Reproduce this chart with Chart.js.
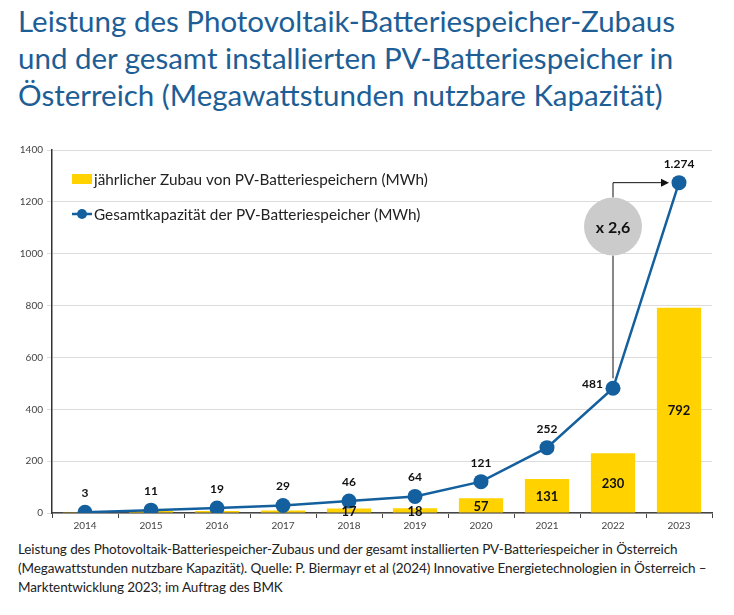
<!DOCTYPE html>
<html><head><meta charset="utf-8">
<script src="https://cdn.jsdelivr.net/npm/chart.js@4.4.1/dist/chart.umd.min.js"></script>
<style>
html,body{margin:0;padding:0;background:#fff;width:734px;height:615px;overflow:hidden;}
#title{position:absolute;left:18px;top:2px;width:716px;font-family:Lato,"Open Sans",sans-serif;font-size:29.5px;line-height:37px;color:#1d5e96;letter-spacing:0px;white-space:nowrap;}
#wrap{position:absolute;left:0;top:140px;width:734px;height:395px;}
#cap{position:absolute;left:18px;top:540px;width:716px;font-family:Lato,"Open Sans",sans-serif;font-size:13.5px;line-height:19px;color:#222;letter-spacing:-0.1px;white-space:nowrap;}
</style></head><body>
<div id="title">Leistung des Photovoltaik-Batteriespeicher-Zubaus<br>und der gesamt installierten PV-Batteriespeicher in<br>Österreich (Megawattstunden nutzbare Kapazität)</div>
<div id="wrap"><canvas id="c"></canvas></div>
<div id="cap">Leistung des Photovoltaik-Batteriespeicher-Zubaus und der gesamt installierten PV-Batteriespeicher in Österreich<br>(Megawattstunden nutzbare Kapazität). Quelle: P. Biermayr et al (2024) Innovative Energietechnologien in Österreich –<br>Marktentwicklung 2023; im Auftrag des BMK</div>
<script>
const years = ["2014","2015","2016","2017","2018","2019","2020","2021","2022","2023"];
const annualAdd = [3, 8, 8, 10, 17, 18, 57, 131, 230, 792];
const totalCap = [3, 11, 19, 29, 46, 64, 121, 252, 481, 1274];
const barLabels = ["", "", "", "", "17", "18", "57", "131", "230", "792"];
const lineLabels = ["3", "11", "19", "29", "46", "64", "121", "252", "481", "1.274"];
const yTicks = [0, 200, 400, 600, 800, 1000, 1200, 1400];
const growthText = "x 2,6";
const barName = "jährlicher Zubau von PV-Batteriespeichern (MWh)";
const lineName = "Gesamtkapazität der PV-Batteriespeicher (MWh)";

const YELLOW = "#ffd200", BLUE = "#14609e";
const FONT = "Lato, 'Open Sans', sans-serif";

const extras = {
  id: "extras",
  afterDatasetsDraw(chart) {
    const ctx = chart.ctx, x = chart.scales.x, y = chart.scales.y, ca = chart.chartArea;
    ctx.save();
    ctx.fillStyle = "#111"; ctx.textAlign = "center"; ctx.textBaseline = "middle";
    ctx.font = "bold 13px " + FONT;
    const bm = chart.getDatasetMeta(0);
    bm.data.forEach((b, i) => {
      if (!barLabels[i]) return;
      ctx.fillText(barLabels[i], b.x, (b.y + b.base) / 2 + 1);
    });
    ctx.font = "bold 12px " + FONT;
    const lm = chart.getDatasetMeta(1);
    lm.data.forEach((p, i) => {
      if (i === 8) { ctx.textAlign = "right"; ctx.fillText(lineLabels[i], p.x - 10, p.y - 4); }
      else { ctx.textAlign = "center"; ctx.fillText(lineLabels[i], p.x, p.y - 19); }
    });
    const p22 = lm.data[8], p23 = lm.data[9];
    const cx = p22.x, cy = y.getPixelForValue(1105), r = 29;
    ctx.strokeStyle = "#111"; ctx.lineWidth = 1;
    ctx.beginPath();
    ctx.moveTo(cx, p22.y - 10); ctx.lineTo(cx, cy + r);
    ctx.moveTo(cx, cy - r); ctx.lineTo(cx, p23.y); ctx.lineTo(p23.x - 16, p23.y);
    ctx.stroke();
    ctx.fillStyle = "#111";
    ctx.beginPath();
    ctx.moveTo(p23.x - 10, p23.y); ctx.lineTo(p23.x - 18, p23.y - 4); ctx.lineTo(p23.x - 18, p23.y + 4); ctx.closePath(); ctx.fill();
    ctx.fillStyle = "#cbcbcb";
    ctx.beginPath(); ctx.arc(cx, cy, r, 0, Math.PI * 2); ctx.fill();
    ctx.fillStyle = "#111"; ctx.textAlign = "center"; ctx.textBaseline = "middle";
    ctx.font = "bold 16px " + FONT;
    ctx.fillText(growthText, cx, cy + 1);
    const lx = ca.left + 20;
    const ly1 = ca.top + 29, ly2 = ca.top + 64;
    ctx.fillStyle = YELLOW; ctx.fillRect(lx, ly1 - 5, 20, 10);
    ctx.strokeStyle = BLUE; ctx.lineWidth = 2.5;
    ctx.beginPath(); ctx.moveTo(lx, ly2); ctx.lineTo(lx + 20, ly2); ctx.stroke();
    ctx.fillStyle = BLUE; ctx.beginPath(); ctx.arc(lx + 10, ly2, 5, 0, Math.PI * 2); ctx.fill();
    ctx.fillStyle = "#222"; ctx.textAlign = "left"; ctx.font = "15.3px " + FONT;
    ctx.fillText(barName, lx + 22, ly1 + 1);
    ctx.fillText(lineName, lx + 22, ly2 + 1);
    ctx.restore();
  }
};

new Chart(document.getElementById("c"), {
  data: {
    labels: years,
    datasets: [
      { type: "bar", label: barName, data: annualAdd, backgroundColor: YELLOW, barPercentage: 0.67, categoryPercentage: 1, order: 2 },
      { type: "line", label: lineName, data: totalCap, borderColor: BLUE, backgroundColor: BLUE, borderWidth: 2.5, pointRadius: 7.5, pointBackgroundColor: BLUE, pointBorderWidth: 0, tension: 0, order: 1 }
    ]
  },
  options: {
    responsive: true, maintainAspectRatio: false, animation: false,
    layout: { padding: { top: 10, right: 22, left: 0, bottom: 0 } },
    plugins: { legend: { display: false }, tooltip: { enabled: false } },
    scales: {
      x: {
        offset: true,
        grid: { offset: true, drawOnChartArea: false, drawTicks: true, tickLength: 5, color: "#444" },
        border: { color: "#444", width: 1.5 },
        ticks: { color: "#444", font: { family: FONT, size: 10 }, padding: 2 },
        afterFit(s) { s.height = 22; }
      },
      y: {
        min: 0, max: 1400,
        afterBuildTicks(s) { s.ticks = yTicks.map(v => ({ value: v })); },
        grid: { color: "#dcdcdc", tickLength: 5, lineWidth: 1 },
        border: { color: "#333", width: 1.5 },
        ticks: { color: "#444", font: { family: FONT, size: 10 }, padding: 4, callback: v => String(v) },
        afterFit(s) { s.width = 52; }
      }
    }
  },
  plugins: [extras]
});
</script>
</body></html>
